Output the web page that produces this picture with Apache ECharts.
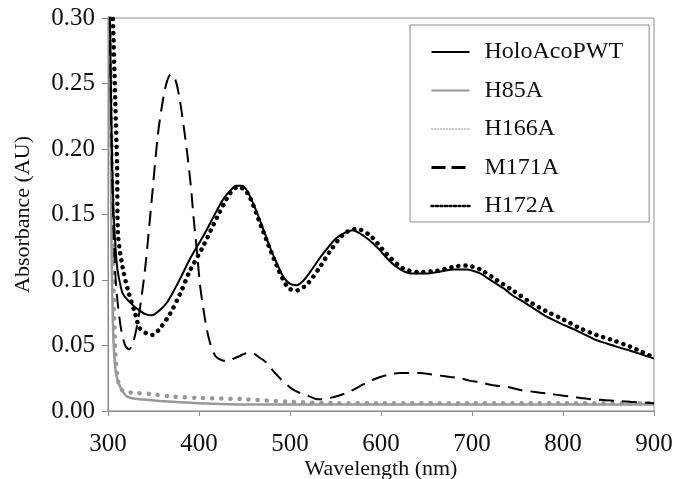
<!DOCTYPE html>
<html>
<head>
<meta charset="utf-8">
<script src="https://cdn.jsdelivr.net/npm/echarts@6/dist/echarts.min.js"></script>
<style>
  html, body { margin: 0; padding: 0; background: #fff; }
  #chart { width: 676px; height: 479px; }
</style>
</head>
<body>
<div id="chart"></div>
<script>
// wavelengths (nm) and absorbance (AU)
var holoWl = [302, 304, 306, 308, 310, 313, 316, 320, 327, 334, 341, 348, 357, 365, 371, 380, 390, 400, 409, 418, 426, 434, 441, 447, 453, 461, 470, 478, 486, 493, 500, 507, 514, 523, 533, 542, 551, 560, 569, 578, 588, 597, 606, 615, 624, 633, 643, 652, 661, 670, 679, 694, 709, 718, 727, 736, 745, 755, 764, 773, 782, 791, 800, 810, 819, 828, 837, 846, 855, 864, 874, 887, 900];
var holoAbs = [0.31, 0.21, 0.155, 0.128, 0.11, 0.098, 0.09, 0.086, 0.081, 0.077, 0.074, 0.073, 0.077, 0.083, 0.090, 0.102, 0.116, 0.128, 0.139, 0.151, 0.161, 0.168, 0.172, 0.172, 0.168, 0.156, 0.140, 0.125, 0.112, 0.102, 0.097, 0.096, 0.099, 0.107, 0.117, 0.125, 0.132, 0.136, 0.138, 0.135, 0.130, 0.124, 0.117, 0.111, 0.107, 0.105, 0.105, 0.105, 0.106, 0.107, 0.108, 0.108, 0.105, 0.101, 0.097, 0.093, 0.088, 0.084, 0.080, 0.076, 0.072, 0.069, 0.066, 0.063, 0.060, 0.057, 0.054, 0.052, 0.050, 0.048, 0.046, 0.043, 0.040];

var h85aWl = [301, 303, 304, 306, 308, 310, 313, 317, 321, 328, 335, 350, 370, 400, 450, 500, 600, 700, 800, 900];
var h85aAbs = [0.32, 0.2, 0.12, 0.054, 0.033, 0.025, 0.019, 0.014, 0.011, 0.0095, 0.009, 0.008, 0.007, 0.006, 0.005, 0.005, 0.005, 0.005, 0.005, 0.005];

var h166aWl = [302, 304, 306, 308, 310, 313, 318, 327, 346, 371, 400, 450, 500, 550, 600, 700, 800, 900];
var h166aAbs = [0.30, 0.2, 0.1, 0.045, 0.028, 0.018, 0.015, 0.014, 0.013, 0.011, 0.010, 0.009, 0.007, 0.006, 0.006, 0.006, 0.006, 0.006];

var m171aWl = [302, 304, 306, 308, 311, 315, 319, 323, 327, 331, 335, 341, 348, 355, 361, 365, 369, 374, 379, 383, 387, 391, 394, 398, 401, 405, 409, 413, 418, 424, 431, 438, 445, 452, 459, 466, 474, 481, 489, 500, 507, 514, 522, 530, 537, 544, 555, 566, 577, 588, 599, 610, 621, 632, 643, 654, 665, 676, 687, 698, 709, 720, 731, 742, 753, 764, 775, 786, 797, 808, 819, 830, 841, 852, 863, 874, 887, 900];
var m171aAbs = [0.30, 0.2, 0.14, 0.105, 0.08, 0.06, 0.05, 0.047, 0.051, 0.062, 0.078, 0.11, 0.161, 0.212, 0.24, 0.252, 0.257, 0.253, 0.237, 0.218, 0.197, 0.172, 0.148, 0.12, 0.097, 0.077, 0.061, 0.05, 0.042, 0.039, 0.038, 0.040, 0.042, 0.044, 0.044, 0.041, 0.037, 0.031, 0.025, 0.018, 0.015, 0.013, 0.011, 0.009, 0.009, 0.010, 0.012, 0.015, 0.019, 0.023, 0.026, 0.028, 0.029, 0.029, 0.029, 0.028, 0.027, 0.026, 0.025, 0.023, 0.022, 0.020, 0.019, 0.018, 0.016, 0.015, 0.014, 0.013, 0.012, 0.011, 0.010, 0.009, 0.0085, 0.008, 0.0075, 0.007, 0.0065, 0.006];

var h172aWl = [305, 308, 310, 311, 316, 322, 330, 335, 343, 349, 357, 368, 379, 390, 404, 420, 434, 443, 450, 456, 470, 486, 498, 507, 519, 533, 544, 559, 573, 588, 606, 624, 643, 661, 679, 694, 709, 727, 745, 764, 782, 800, 819, 837, 855, 874, 887, 900];
var h172aAbs = [0.31, 0.237, 0.186, 0.135, 0.11, 0.092, 0.074, 0.063, 0.059, 0.058, 0.063, 0.074, 0.089, 0.107, 0.125, 0.148, 0.166, 0.171, 0.169, 0.163, 0.138, 0.11, 0.094, 0.092, 0.097, 0.11, 0.122, 0.135, 0.139, 0.134, 0.12, 0.109, 0.106, 0.107, 0.110, 0.111, 0.108, 0.100, 0.092, 0.083, 0.076, 0.070, 0.063, 0.058, 0.054, 0.049, 0.045, 0.041];

var xTicks = [300, 400, 500, 600, 700, 800, 900];

function pairs(xs, ys) {
    return xs.map(function (x, i) { return [x, ys[i]]; });
}

var font = '"Liberation Serif", "Times New Roman", serif';
var noMarker = { opacity: 0 };
var chart = echarts.init(document.getElementById('chart'));

chart.setOption({
    backgroundColor: '#fff',
    animation: false,
    textStyle: { fontFamily: font },
    grid: {
        left: 108, right: 22, top: 18, bottom: 68,
        outerBoundsMode: 'none',
        show: true, borderColor: '#8a8a8a', borderWidth: 1
    },
    xAxis: {
        type: 'value', min: xTicks[0], max: xTicks[xTicks.length - 1], interval: 100,
        name: 'Wavelength (nm)', nameLocation: 'middle', nameGap: 47, nameMoveOverlap: false,
        nameTextStyle: { fontFamily: font, fontSize: 22, color: '#111' },
        axisLine: { lineStyle: { color: '#8a8a8a' } },
        axisTick: { show: true, inside: false, length: 5, lineStyle: { color: '#8a8a8a' } },
        axisLabel: { fontFamily: font, fontSize: 25, color: '#111', margin: 21 },
        splitLine: { show: false }
    },
    yAxis: {
        type: 'value', min: 0, max: 0.3, interval: 0.05,
        name: 'Absorbance (AU)', nameLocation: 'middle', nameGap: 74, nameMoveOverlap: false,
        nameTextStyle: { fontFamily: font, fontSize: 22, color: '#111' },
        axisLine: { show: true, lineStyle: { color: '#8a8a8a' } },
        axisTick: { show: true, inside: false, length: 6, lineStyle: { color: '#8a8a8a' } },
        axisLabel: {
            fontFamily: font, fontSize: 25, color: '#111', margin: 13,
            formatter: function (v) { return v.toFixed(2); }
        },
        splitLine: { show: false }
    },
    legend: {
        orient: 'vertical', left: 410, top: 25,
        padding: [15, 26, 4, 20],
        itemWidth: 38, itemHeight: 10, itemGap: 14.5,
        borderColor: '#8a8a8a', borderWidth: 1, backgroundColor: '#fff',
        textStyle: { fontFamily: font, fontSize: 24, color: '#111', lineHeight: 24, padding: [0, 0, 0, 10] },
        data: [
            { name: 'HoloAcoPWT', itemStyle: noMarker, lineStyle: { color: '#000', width: 2, type: 'solid' } },
            { name: 'H85A', itemStyle: noMarker, lineStyle: { color: '#999', width: 2, type: 'solid' } },
            { name: 'H166A', itemStyle: noMarker, lineStyle: { color: '#999', width: 1, type: [1.5, 1.5] } },
            { name: 'M171A', itemStyle: noMarker, lineStyle: { color: '#000', width: 3, type: [14, 6] } },
            { name: 'H172A', itemStyle: noMarker, lineStyle: { color: '#000', width: 2.5, type: [2, 2.5] } }
        ]
    },
    series: [
        {
            name: 'H85A', type: 'line', symbol: 'none', smooth: 0.3,
            data: pairs(h85aWl, h85aAbs),
            lineStyle: { color: '#999', width: 2.5 }, itemStyle: { color: '#999' }
        },
        {
            name: 'H166A', type: 'line', symbol: 'none', smooth: 0.3,
            data: pairs(h166aWl, h166aAbs),
            lineStyle: { color: '#999', width: 4.5, type: [0.1, 9], cap: 'round' }, itemStyle: { color: '#999' }
        },
        {
            name: 'M171A', type: 'line', symbol: 'none', smooth: 0.3,
            data: pairs(m171aWl, m171aAbs),
            lineStyle: { color: '#000', width: 2, type: [15, 8] }, itemStyle: { color: '#000' }
        },
        {
            name: 'HoloAcoPWT', type: 'line', symbol: 'none', smooth: 0.3,
            data: pairs(holoWl, holoAbs),
            lineStyle: { color: '#000', width: 2 }, itemStyle: { color: '#000' }
        },
        {
            name: 'H172A', type: 'line', symbol: 'none', smooth: 0.3,
            data: pairs(h172aWl, h172aAbs),
            lineStyle: { color: '#000', width: 4.5, type: [0.1, 7], cap: 'round' }, itemStyle: { color: '#000' }
        }
    ]
});
</script>
</body>
</html>
